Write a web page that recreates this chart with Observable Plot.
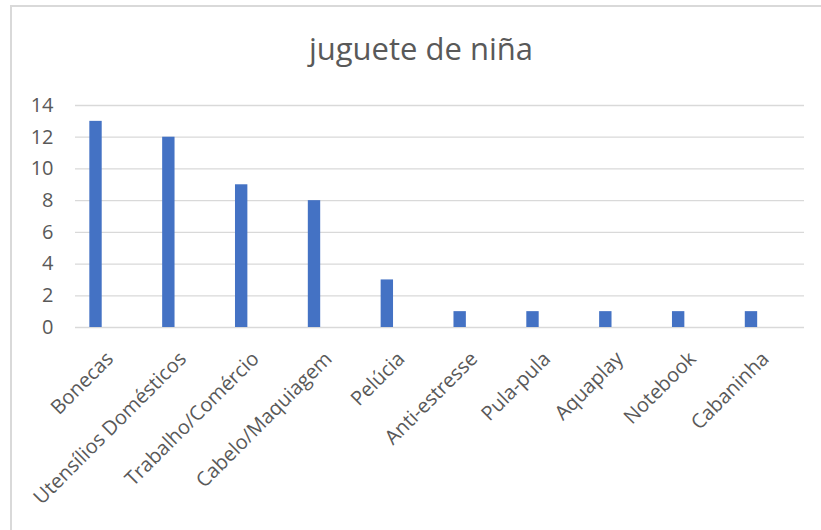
<!DOCTYPE html>
<html>
<head>
<meta charset="utf-8">
<script src="https://cdn.jsdelivr.net/npm/d3@7"></script>
<script src="https://cdn.jsdelivr.net/npm/@observablehq/plot@0.6"></script>
<style>
  html, body { margin: 0; padding: 0; background: #fff; }
  body { width: 821px; height: 530px; position: relative; overflow: hidden; font-family: "Open Sans", sans-serif; }
  #frame { position: absolute; left: 10px; top: 5px; width: 840px; height: 560px; border: 2px solid #d9d9d9; box-sizing: border-box; }
  #title { position: absolute; left: 11px; width: 820px; top: 28px; text-align: center; font-size: 31px; color: #595959; line-height: 40px; }
  #chart { position: absolute; left: 0; top: 0; }
</style>
</head>
<body>
<div id="frame"></div>
<div id="title">juguete de niña</div>
<div id="chart"></div>
<script>
const categories = ["Bonecas", "Utensílios Domésticos", "Trabalho/Comércio", "Cabelo/Maquiagem", "Pelúcia", "Anti-estresse", "Pula-pula", "Aquaplay", "Notebook", "Cabaninha"];
const values = [13, 12, 9, 8, 3, 1, 1, 1, 1, 1];
const yTicks = [0, 2, 4, 6, 8, 10, 12, 14];

const data = categories.map((c, i) => ({category: c, value: values[i]}));

const chart = Plot.plot({
  width: 821,
  height: 530,
  marginTop: 105,
  marginBottom: 203,
  marginLeft: 75,
  marginRight: 17,
  style: {fontFamily: "'Open Sans', sans-serif", fontSize: "20px", color: "#595959", background: "transparent", overflow: "visible"},
  x: {domain: categories, range: [59.1, 787.4], paddingInner: 0.83, paddingOuter: 0.415, round: false},
  y: {domain: [0, 14]},
  marks: [
    Plot.ruleY(yTicks, {stroke: "#d9d9d9", strokeWidth: 1.3}),
    Plot.barY(data, {x: "category", y: "value", fill: "#4472C4"}),
    Plot.axisY({ticks: yTicks, tickSize: 0, tickPadding: 22, label: null, fill: "#595959", fontSize: 20}),
    Plot.axisX({tickSize: 0, tickRotate: -45, tickPadding: 28, label: null, fill: "#595959", fontSize: 20, dx: 14})
  ]
});
document.getElementById("chart").appendChild(chart);
</script>
</body>
</html>
